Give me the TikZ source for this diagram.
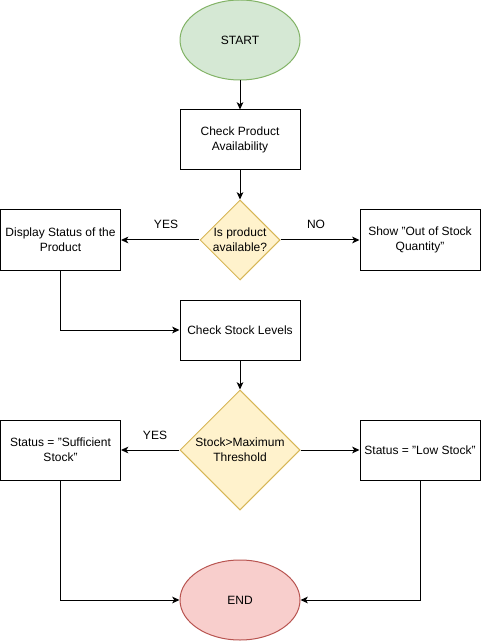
\documentclass[tikz,border=0pt]{standalone}
\usepackage{fontspec}
\setmainfont{Liberation Sans}
\usepackage{xcolor}
\usetikzlibrary{shapes.geometric,arrows.meta}
\definecolor{startfill}{HTML}{D5E8D4}
\definecolor{startline}{HTML}{82B366}
\definecolor{askfill}{HTML}{FFF2CC}
\definecolor{askline}{HTML}{D6B656}
\definecolor{endfill}{HTML}{F8CECC}
\definecolor{endline}{HTML}{B85450}
\begin{document}
\begin{tikzpicture}[x=0.75pt,y=-0.75pt,line width=0.75pt,
 every node/.style={font=\fontsize{9}{11}\selectfont},
 term/.style={ellipse,draw,inner sep=0pt,minimum width=90pt,minimum height=60pt},
 box/.style={draw,fill=white,inner sep=0pt,minimum width=90pt,minimum height=45pt,align=center},
 ask/.style={diamond,draw=askline,fill=askfill,inner sep=-2pt,align=center},
 flow/.style={-{Stealth[length=5.5pt,width=5pt,inset=1.5pt]}}]
 \useasboundingbox (0,0) rectangle (481,641);
 % start and first checks
 \node[term,fill=startfill,draw=startline] (start) at (240,40) {START};
 \node[box] (avail) at (240,140) {Check Product\\Availability};
 \node[ask,minimum width=60pt,minimum height=60pt] (isavail) at (240,240) {Is product\\available?};
 \node[box] (display) at (60.5,240) {Display Status of the\\Product};
 \node[box] (outstock) at (420,240) {Show "Out of Stock\\Quantity"};
 \node (yes1) at (166,224) {YES};
 \node (no1) at (316,224) {NO};
 % stock levels
 \node[box] (levels) at (240,330) {Check Stock Levels};
 \node[ask,minimum width=90pt,minimum height=90pt] (maxthr) at (240,450) {Stock>Maximum\\Threshold};
 \node[box] (suff) at (60.5,450) {Status = "Sufficient\\Stock"};
 \node[box] (low) at (420,450) {Status = "Low Stock"};
 \node (yes2) at (155,435) {YES};
 \node[term,fill=endfill,draw=endline] (stop) at (240,600) {END};
 % connectors
 \draw[flow] (start) -- (avail);
 \draw[flow] (avail) -- (isavail);
 \draw[flow] (isavail) -- (display);
 \draw[flow] (isavail) -- (outstock);
 \draw[flow] (display.south) |- (levels.west);
 \draw[flow] (levels) -- (maxthr);
 \draw[flow] (maxthr) -- (suff);
 \draw[flow] (maxthr) -- (low);
 \draw[flow] (suff.south) |- (stop.west);
 \draw[flow] (low.south) |- (stop.east);
\end{tikzpicture}
\end{document}
